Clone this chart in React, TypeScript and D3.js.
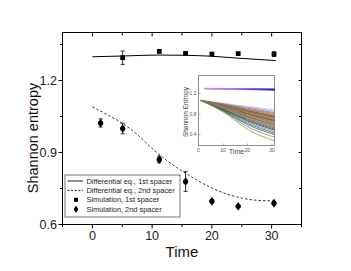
import React from "react";
import * as d3 from "d3";

// main plot data
const solidT = [0, 5, 11, 15.6, 20, 24.4, 30.7];
const solidV = [1.299, 1.302, 1.306, 1.305, 1.301, 1.293, 1.283];

const dashT = [0, 2.5, 5, 7.5, 10, 12.5, 15, 17.5, 20, 22.5, 25, 27.5, 30.7];
const dashV = [1.09, 1.058, 1.022, 0.975, 0.917, 0.866, 0.823, 0.785, 0.752, 0.727, 0.71, 0.701, 0.698];

const sqT = [5.07, 11.2, 15.6, 20.0, 24.4, 30.4];
const sqV = [1.295, 1.321, 1.313, 1.31, 1.312, 1.31];
const sqErr = [0.028, 0, 0.007, 0, 0.005, 0.01];

const dmT = [1.38, 5.07, 11.2, 15.6, 20.0, 24.4, 30.4];
const dmV = [1.023, 1.0, 0.871, 0.779, 0.697, 0.676, 0.689];
const dmErr = [0.017, 0.022, 0.014, 0.041, 0.006, 0.004, 0.004];

const xMajor = [0, 10, 20, 30];
const xMinor = [-5, 5, 15, 25, 35];
const yMajor = [0.6, 0.9, 1.2];
const yMinor = [0.75, 1.05, 1.35];

const legendLabels = [
    "Differential eq., 1st spacer",
    "Differential eq., 2nd spacer",
    "Simulation, 1st spacer",
    "Simulation, 2nd spacer"
];

// inset data
const insetT = [1, 10, 20, 31];
const insetTopT = [2.5, 31];
const insetTop = [
    [1.302, 1.285],
    [1.296, 1.277],
    [1.29, 1.271]
];
const insetFan = [
    [1.065, 1.012, 0.951, 0.89],
    [1.065, 1.003, 0.932, 0.86],
    [1.065, 0.994, 0.913, 0.83],
    [1.065, 0.988, 0.899, 0.81],
    [1.065, 0.982, 0.886, 0.79],
    [1.065, 0.977, 0.876, 0.775],
    [1.065, 0.972, 0.866, 0.76],
    [1.065, 0.969, 0.859, 0.75],
    [1.065, 0.966, 0.852, 0.74],
    [1.065, 0.963, 0.845, 0.73],
    [1.065, 0.96, 0.838, 0.72],
    [1.065, 0.957, 0.831, 0.71],
    [1.065, 0.954, 0.824, 0.7],
    [1.065, 0.951, 0.817, 0.69],
    [1.065, 0.948, 0.81, 0.68],
    [1.065, 0.945, 0.803, 0.67],
    [1.065, 0.942, 0.796, 0.66],
    [1.065, 0.939, 0.789, 0.65],
    [1.065, 0.935, 0.781, 0.64],
    [1.065, 0.932, 0.774, 0.63],
    [1.065, 0.929, 0.767, 0.62],
    [1.065, 0.926, 0.76, 0.61],
    [1.065, 0.922, 0.752, 0.6],
    [1.065, 0.919, 0.745, 0.59],
    [1.065, 0.916, 0.738, 0.58],
    [1.065, 0.912, 0.73, 0.57],
    [1.065, 0.909, 0.722, 0.56],
    [1.065, 0.904, 0.711, 0.545],
    [1.065, 0.899, 0.7, 0.53],
    [1.065, 0.892, 0.684, 0.51],
    [1.065, 0.885, 0.668, 0.49],
    [1.065, 0.876, 0.645, 0.46],
    [1.065, 0.866, 0.621, 0.43],
    [1.065, 0.86, 0.595, 0.4],
    [1.065, 0.85, 0.555, 0.35],
    [1.065, 0.845, 0.505, 0.28]
];
const fanColors = [
    "#c8c8ff", "#9090c0", "#6080a0", "#ff4040", "#40a040", "#e08020",
    "#2060c0", "#d02020", "#20a0a0", "#c04040", "#808000", "#e06060",
    "#40c080", "#ff8000", "#a02040", "#208020", "#e04000", "#60a0c0",
    "#c08040", "#009090", "#ff6060", "#80c040", "#d06020", "#4080c0",
    "#c02060", "#60c060", "#e0a040", "#2080a0", "#a06040", "#406080",
    "#303030", "#808080", "#207070", "#505050", "#40a0a0", "#a0a020"
];
const insetXTicks = [0, 10, 20, 30];
const insetYTicks = [0.4, 0.8, 1.2];

const font = "'Liberation Sans', Arial, sans-serif";

export default function App() {
    const x = d3.scaleLinear().domain([-5, 35]).range([62.5, 301.5]);
    const y = d3.scaleLinear().domain([0.6, 1.4]).range([224.5, 32.5]);

    const ix = d3.scaleLinear().domain([0, 31]).range([198.5, 274.5]);
    const iy = d3.scaleLinear().domain([0.19, 1.55]).range([145.5, 75.5]);

    const line = d3
        .line<[number, number]>()
        .x(d => x(d[0]))
        .y(d => y(d[1]))
        .curve(d3.curveMonotoneX);
    const iline = d3
        .line<[number, number]>()
        .x(d => ix(d[0]))
        .y(d => iy(d[1]))
        .curve(d3.curveMonotoneX);

    const solid = line(solidT.map((t, i) => [t, solidV[i]]));
    const dashed = line(dashT.map((t, i) => [t, dashV[i]]));
    const diamond = d3.symbol().type(d3.symbolDiamond).size(24)();

    const [x0, x1] = x.range();
    const [y0, y1] = y.range();

    const errBar = (t: number, v: number, e: number, k: string) =>
        e > 0 ? (
            <g key={k} stroke="black" strokeWidth={0.8}>
                <line x1={x(t)} x2={x(t)} y1={y(v - e)} y2={y(v + e)} />
                <line x1={x(t) - 2} x2={x(t) + 2} y1={y(v - e)} y2={y(v - e)} />
                <line x1={x(t) - 2} x2={x(t) + 2} y1={y(v + e)} y2={y(v + e)} />
            </g>
        ) : null;

    const lg = { x: 65, y: 175, w: 115, h: 42, row: 9.4 };

    return (
        <svg
            width={351}
            height={271}
            style={{ position: "absolute", left: 0, top: 0, background: "white" }}
            fontFamily={font}
        >
            <defs>
                <linearGradient id="topband" x1="0" x2="1" y1="0" y2="0">
                    <stop offset="0%" stopColor="#d090e8" />
                    <stop offset="45%" stopColor="#b070f0" />
                    <stop offset="100%" stopColor="#2010c0" />
                </linearGradient>
            </defs>

            {/* frame */}
            <rect x={x0} y={y1} width={x1 - x0} height={y0 - y1} fill="none" stroke="black" strokeWidth={1} />

            {/* bottom ticks (out) and top ticks (in) */}
            {xMajor.map(t => (
                <g key={"xm" + t} stroke="black" strokeWidth={1}>
                    <line x1={x(t)} x2={x(t)} y1={y0} y2={y0 + 4} />
                    <line x1={x(t)} x2={x(t)} y1={y1} y2={y1 + 4} />
                </g>
            ))}
            {xMinor.map(t => (
                <g key={"xn" + t} stroke="black" strokeWidth={1}>
                    <line x1={x(t)} x2={x(t)} y1={y0} y2={y0 + 2.5} />
                    <line x1={x(t)} x2={x(t)} y1={y1} y2={y1 + 3} />
                </g>
            ))}
            {yMajor.map(v => (
                <g key={"ym" + v} stroke="black" strokeWidth={1}>
                    <line x1={x0 - 4} x2={x0} y1={y(v)} y2={y(v)} />
                    <line x1={x1 - 3} x2={x1} y1={y(v)} y2={y(v)} />
                </g>
            ))}
            {yMinor.map(v => (
                <g key={"yn" + v} stroke="black" strokeWidth={1}>
                    <line x1={x0 - 2.5} x2={x0} y1={y(v)} y2={y(v)} />
                    <line x1={x1 - 2.5} x2={x1} y1={y(v)} y2={y(v)} />
                </g>
            ))}

            {xMajor.map(t => (
                <text key={"xl" + t} x={x(t)} y={239.5} fontSize={12.5} textAnchor="middle" fill="#222">
                    {t}
                </text>
            ))}
            {yMajor.map(v => (
                <text key={"yl" + v} x={57} y={y(v) + 4.5} fontSize={12.5} textAnchor="end" fill="#222">
                    {v.toFixed(1)}
                </text>
            ))}

            <text x={182} y={257} fontSize={15} textAnchor="middle" fill="#111">
                Time
            </text>
            <text
                transform={`translate(37.5,138) rotate(-90)`}
                fontSize={14.5}
                textAnchor="middle"
                fill="#111"
            >
                Shannon entropy
            </text>

            {/* curves */}
            <path d={solid || ""} fill="none" stroke="black" strokeWidth={1} />
            <path d={dashed || ""} fill="none" stroke="#222" strokeWidth={0.9} strokeDasharray="2.5 2" />

            {sqT.map((t, i) => errBar(t, sqV[i], sqErr[i], "se" + i))}
            {sqT.map((t, i) => (
                <rect key={"sq" + i} x={x(t) - 2.4} y={y(sqV[i]) - 2.4} width={4.8} height={4.8} fill="black" />
            ))}
            {dmT.map((t, i) => errBar(t, dmV[i], dmErr[i], "de" + i))}
            {dmT.map((t, i) => (
                <g key={"dm" + i} transform={`translate(${x(t)},${y(dmV[i])})`} fill="black">
                    <path d={diamond || ""} />
                    <circle r={2.6} />
                </g>
            ))}

            {/* inset */}
            <rect x={198.5} y={75.5} width={76} height={70} fill="white" stroke="#777" strokeWidth={0.8} />
            {insetFan.map((row, i) => (
                <path
                    key={"f" + i}
                    d={iline(insetT.map((t, j) => [t, row[j]])) || ""}
                    fill="none"
                    stroke={fanColors[i]}
                    strokeWidth={0.8}
                />
            ))}
            {insetTop.map((row, i) => (
                <path
                    key={"tb" + i}
                    d={iline(insetTopT.map((t, j) => [t, row[j]])) || ""}
                    fill="none"
                    stroke="url(#topband)"
                    strokeWidth={1.2}
                />
            ))}
            {insetXTicks.map(t => (
                <g key={"ixt" + t}>
                    <line x1={ix(t)} x2={ix(t)} y1={145.5} y2={143.5} stroke="#777" strokeWidth={0.6} />
                    <text x={ix(t)} y={152} fontSize={5} textAnchor="middle" fill="#555">
                        {t}
                    </text>
                </g>
            ))}
            {insetYTicks.map(v => (
                <g key={"iyt" + v}>
                    <line x1={198.5} x2={200.5} y1={iy(v)} y2={iy(v)} stroke="#777" strokeWidth={0.6} />
                    <text x={196.5} y={iy(v) + 1.8} fontSize={5} textAnchor="end" fill="#555">
                        {v.toFixed(1)}
                    </text>
                </g>
            ))}
            <text x={236.5} y={153.5} fontSize={7} textAnchor="middle" fill="#444">
                Time
            </text>
            <text transform={`translate(188,112) rotate(-90)`} fontSize={6.5} textAnchor="middle" fill="#444">
                Shannon Entropy
            </text>

            {/* legend */}
            <rect x={lg.x} y={lg.y} width={lg.w} height={lg.h} fill="white" stroke="#555" strokeWidth={0.8} />
            {legendLabels.map((l, i) => {
                const cy = lg.y + 6 + i * lg.row;
                return (
                    <g key={"lg" + i}>
                        {i === 0 && <line x1={67.5} x2={83} y1={cy} y2={cy} stroke="black" strokeWidth={0.9} />}
                        {i === 1 && (
                            <line x1={67.5} x2={83} y1={cy} y2={cy} stroke="black" strokeWidth={0.9} strokeDasharray="2 1.6" />
                        )}
                        {i === 2 && <rect x={74} y={cy - 2} width={4} height={4} fill="black" />}
                        {i === 3 && (
                            <g transform={`translate(76,${cy})`} fill="black">
                                <path d={d3.symbol().type(d3.symbolDiamond).size(16)() || ""} />
                                <circle r={1.9} />
                            </g>
                        )}
                        <text x={86.5} y={cy + 2.6} fontSize={7.4} fill="#222">
                            {l}
                        </text>
                    </g>
                );
            })}
        </svg>
    );
}
